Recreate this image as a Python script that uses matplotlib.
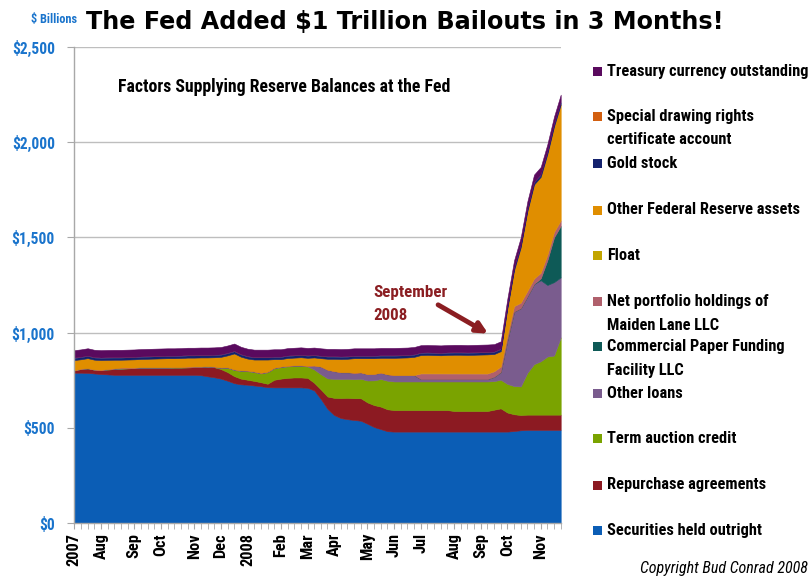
import matplotlib
matplotlib.use("Agg")
import matplotlib.pyplot as plt
from matplotlib import font_manager
from matplotlib.patches import Rectangle
import numpy as np
import pandas as pd

# ---------------- data (US$ billions, weekly Wednesday levels) ----------------
dates = pd.date_range("2007-07-04", "2008-11-26", freq="7D")   # 74 weeks

tick_labels = ["2007", "Aug", "Sep", "Oct", "Nov", "Dec", "2008", "Feb", "Mar",
               "Apr", "May", "Jun", "Jul", "Aug", "Sep", "Oct", "Nov"]

securities = [790, 790, 789, 786, 783, 781, 779, 779, 779, 779,
              779, 779, 779, 779, 779, 779, 779, 779, 779, 777,
              771, 766, 759, 748, 735, 729, 727, 723, 719, 714,
              713, 713, 713, 713, 713, 711, 697, 652, 600, 568,
              552, 546, 542, 538, 522, 505, 494, 483, 481, 481,
              481, 481, 481, 481, 481, 481, 481, 481, 481, 481,
              481, 481, 481, 481, 481, 481, 484, 488, 490, 490,
              490, 490, 490, 490]
repos = [12, 20, 24, 20, 21, 26, 30, 32, 34, 35,
         37, 37, 37, 37, 37, 38, 38, 39, 40, 42,
         50, 53, 50, 45, 37, 30, 26, 24, 21, 18,
         40, 46, 50, 52, 52, 52, 40, 50, 65, 90,
         105, 112, 114, 118, 112, 115, 118, 115, 113, 113,
         113, 113, 113, 113, 113, 113, 113, 108, 108, 108,
         108, 108, 108, 115, 122, 100, 88, 80, 80, 80,
         80, 80, 80, 80]
term_auction = [0, 0, 0, 0, 0, 0, 0, 0, 0, 0,
                0, 0, 0, 0, 0, 0, 0, 0, 0, 0,
                0, 0, 5, 22, 32, 40, 45, 46, 46, 60,
                60, 60, 60, 60, 60, 60, 70, 80, 95, 100,
                100, 100, 100, 102, 115, 130, 145, 150, 150, 150,
                150, 150, 150, 150, 150, 150, 150, 155, 155, 155,
                155, 155, 155, 150, 150, 150, 148, 150, 220, 265,
                280, 305, 310, 405]
other_loans = [0.3, 0.5, 0.3, 0.3, 0.5, 1.5, 3, 5, 3, 2,
               2, 2, 2, 2, 2, 2, 2, 3, 3, 3,
               3, 3, 3, 3, 3, 3, 3, 3, 3, 3,
               3, 3, 3, 3, 3, 3, 20, 40, 45, 40,
               35, 34, 33, 33, 33, 33, 33, 33, 33, 33,
               33, 33, 12, 12, 12, 12, 12, 12, 12, 12,
               12, 12, 12, 22, 40, 229, 390, 410, 400, 420,
               425, 375, 385, 315]
cpff = [0] * 70 + [10, 130, 235, 270]
maiden_lane = [0] * 52 + [29.4, 29.4, 29.3, 29.3, 29.2, 29.2, 29.1, 29.1, 29.0, 29.0,
                          28.9, 28.9, 28.8, 28.8, 28.7, 28.6, 28.5, 28.4, 28.3, 28.2,
                          27.9, 27.6]
float_ = [1.0] * 74
other_fr_assets = [53, 49, 52, 51, 51, 48, 45, 41, 42, 43,
                   43, 44, 45, 46, 47, 46, 47, 47, 46, 47,
                   45, 48, 55, 62, 83, 71, 62, 62, 69, 63,
                   44, 38, 40, 40, 42, 41, 42, 43, 57, 64,
                   69, 70, 76, 74, 83, 82, 77, 86, 90, 91,
                   92, 95, 96, 97, 96, 95, 97, 98, 98, 97,
                   98, 99, 100, 90, 80, 138, 188, 290, 418, 493,
                   503, 528, 553, 608]
gold = [11.0] * 74
sdr = [2.2] * 74
treasury_currency = [38.7] * 74

series_names = ["Securities held outright", "Repurchase agreements", "Term auction credit",
                "Other loans", "Commercial Paper Funding\nFacility LLC",
                "Net portfolio holdings of\nMaiden Lane LLC", "Float",
                "Other Federal Reserve assets", "Gold stock",
                "Special drawing rights\ncertificate account", "Treasury currency outstanding"]
series_values = [securities, repos, term_auction, other_loans, cpff, maiden_lane, float_,
                 other_fr_assets, gold, sdr, treasury_currency]
series_colors = ["#0B5DB5", "#8C1A22", "#7AA300", "#7A5C8E", "#0E5A57", "#B0606C",
                 "#C2A500", "#E08E00", "#14226E", "#D25F10", "#5A0A5E"]

y_ticks = [0, 500, 1000, 1500, 2000, 2500]
y_tick_labels = ["$0", "$500", "$1,000", "$1,500", "$2,000", "$2,500"]

# ---------------- fonts ----------------
avail = {f.name for f in font_manager.fontManager.ttflist}
def pick(*names):
    for n in names:
        if n in avail:
            return n
    return "DejaVu Sans"
NARROW = pick("Liberation Sans Narrow", "DejaVu Sans Condensed", "Roboto Condensed", "Liberation Sans")
WIDE = pick("DejaVu Sans")

W, H = 811, 578
fig = plt.figure(figsize=(W / 100, H / 100), dpi=100)
renderer = fig.canvas.get_renderer()

def fx(px):
    return px / W
def fy(py):
    return 1 - py / H
def fit_size(s, width_px, family, weight="bold", style="normal", base=12.0):
    t = fig.text(0, 0, s, fontsize=base, family=family, weight=weight, style=style)
    w = t.get_window_extent(renderer=renderer).width
    t.remove()
    return base * width_px / w

# ---------------- axes ----------------
x0, x1, ytop, ybot = 74.3, 560.7, 46.7, 523.3
ax = fig.add_axes([fx(x0), 1 - ybot / H, (x1 - x0) / W, (ybot - ytop) / H])
x = np.arange(len(dates))
polys = ax.stackplot(x, *series_values, colors=series_colors, zorder=2)
for p, c, name in zip(polys, series_colors, series_names):
    if name in ("Float",) or name.startswith("Special"):
        p.set_linewidth(0)
    else:
        p.set_edgecolor(c)
        p.set_linewidth(0.4)

ax.set_xlim(0, len(dates) - 1)
ax.set_ylim(0, 2500)
ax.set_axisbelow(True)
ax.yaxis.grid(True, color="#BEBEBE", lw=1.0, zorder=0)
for s in ("top", "right"):
    ax.spines[s].set_visible(False)
for s in ("left", "bottom"):
    ax.spines[s].set_color("#A8A8A8")
    ax.spines[s].set_linewidth(1.0)

# month ticks: first week of each month
month_idx = [0] + [i for i in range(1, len(dates)) if dates[i].month != dates[i - 1].month]
lab_size = fit_size("Treasury currency outstanding", 202, NARROW)
ax.set_xticks(month_idx)
ax.set_xticklabels(tick_labels, rotation=90, fontsize=lab_size, family=NARROW,
                   weight="bold", color="black")
ax.set_xticks(x, minor=True)
ax.tick_params(axis="x", which="both", length=4, color="#A8A8A8", direction="out", pad=3)

ysize = fit_size("$2,500", 43, NARROW)
ax.set_yticks(y_ticks)
ax.set_yticklabels(y_tick_labels, fontsize=ysize, family=NARROW, weight="bold", color="#1A74CC")
ax.tick_params(axis="y", length=5, color="#A8A8A8", direction="out", pad=9)

# subtitle inside plot
sub = "Factors Supplying Reserve Balances at the Fed"
fig.text(fx(118), fy(87), sub, fontsize=fit_size(sub, 333, NARROW), family=NARROW,
         weight="bold", color="black", va="center", ha="left")

# September 2008 annotation
ann_c = "#8B1E22"
asz = fit_size("September", 74, NARROW)
fig.text(fx(373), fy(292), "September", fontsize=asz, family=NARROW, weight="bold",
         color=ann_c, va="center", ha="left")
fig.text(fx(373), fy(315), "2008", fontsize=asz, family=NARROW, weight="bold",
         color=ann_c, va="center", ha="left")
ax.annotate("", xy=(62.1, 995), xytext=(54.6, 1146),
            arrowprops=dict(arrowstyle="-|>", color=ann_c, lw=3.5, mutation_scale=16,
                            shrinkA=0, shrinkB=0), zorder=5)

# ---------------- titles ----------------
title = "The Fed Added $1 Trillion Bailouts in 3 Months!"
fig.text(fx(86), fy(22), title, fontsize=fit_size(title, 636, WIDE), family=WIDE,
         weight="bold", color="black", va="center", ha="left")
fig.text(fx(77), fy(20), "$ Billions", fontsize=fit_size("$ Billions", 46, NARROW),
         family=NARROW, weight="bold", color="#1A74CC", va="center", ha="right")

# ---------------- legend (manual, top to bottom) ----------------
legend_rows = [("Treasury currency outstanding", 71.7),
               ("Special drawing rights\ncertificate account", 116.7),
               ("Gold stock", 163.3),
               ("Other Federal Reserve assets", 210),
               ("Float", 255),
               ("Net portfolio holdings of\nMaiden Lane LLC", 301.7),
               ("Commercial Paper Funding\nFacility LLC", 346.7),
               ("Other loans", 393.3),
               ("Term auction credit", 438.3),
               ("Repurchase agreements", 485),
               ("Securities held outright", 530)]
color_of = dict(zip(series_names, series_colors))
for name, ypx in legend_rows:
    fig.patches.append(Rectangle((fx(592.5), fy(ypx + 4.5)), 9 / W, 9 / H,
                                 transform=fig.transFigure, facecolor=color_of[name],
                                 edgecolor="none"))
    for k, line in enumerate(name.split("\n")):
        fig.text(fx(607), fy(ypx + 23.3 * k), line, fontsize=lab_size, family=NARROW,
                 weight="bold", color="black", va="center", ha="left")

cp = "Copyright Bud Conrad 2008"
fig.text(fx(808), fy(568), cp, fontsize=fit_size(cp, 168, NARROW, weight="normal", style="italic"),
         family=NARROW, style="italic", color="black", va="center", ha="right")

fig.savefig("out.png", dpi=100)
